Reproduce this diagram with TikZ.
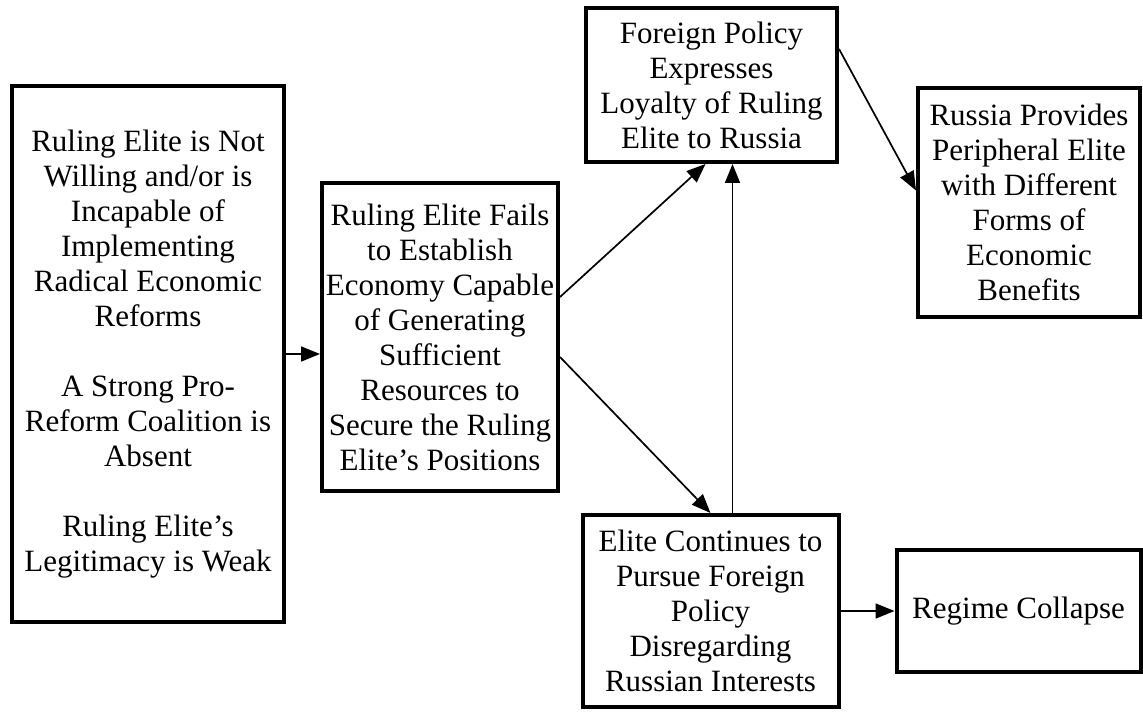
\documentclass[tikz,border=0pt]{standalone}
\usepackage{fontspec}
\setmainfont{Liberation Serif}
\usetikzlibrary{arrows.meta}

\tikzset{
  cbox/.style={draw, line width=2pt, align=center, inner sep=0pt,
    font=\fontsize{15.5pt}{17.5pt}\selectfont},
  link/.style={-{Triangle[length=9.5pt,width=7.5pt]}, line width=0.85pt}
}

\begin{document}
\begin{tikzpicture}[x=0.5pt, y=-0.5pt, line join=miter]
		% Page frame
		\useasboundingbox (0,0) rectangle (1143,711);
		
		% Boxes
		\node[cbox, minimum width=136pt, minimum height=268pt] (cause) at (148,354)
		{Ruling Elite is Not\\ Willing and/or is\\ Incapable of\\ Implementing\\ Radical Economic\\ Reforms\\[17.5pt]
		 A Strong Pro-\\ Reform Coalition is\\ Absent\\[17.5pt]
		 Ruling Elite's\\ Legitimacy is Weak};
		\node[cbox, minimum width=118pt, minimum height=154pt] (fail) at (440,337)
		{Ruling Elite Fails\\ to Establish\\ Economy Capable\\ of Generating\\ Sufficient\\ Resources to\\ Secure the Ruling\\ Elite's Positions};
		\node[cbox, minimum width=125.5pt, minimum height=77pt] (loyal) at (711.5,85)
		{Foreign Policy\\ Expresses\\ Loyalty of Ruling\\ Elite to Russia};
		\node[cbox, minimum width=111pt, minimum height=114.5pt] (benefit) at (1029,202.5)
		{Russia Provides\\ Peripheral Elite\\ with Different\\ Forms of\\ Economic\\ Benefits};
		\node[cbox, minimum width=128pt, minimum height=96pt] (pursue) at (710.5,611)
		{Elite Continues to\\ Pursue Foreign\\ Policy\\ Disregarding\\ Russian Interests};
		\node[cbox, minimum width=122pt, minimum height=61pt] (collapse) at (1018.5,611)
		{Regime Collapse};
		
		% Arrows
		\draw[link] (cause.east) -- (cause.east -| fail.west);
		\draw[link] ([yshift=20pt]fail.east) -- ([xshift=-3pt]loyal.south);
		\draw[link] ([yshift=-10pt]fail.east) -- (pursue.north);
		\draw[link] ([xshift=11pt]pursue.north) -- ([xshift=11pt]pursue.north |- loyal.south);
		\draw[link] ([yshift=18pt]loyal.east) -- ([yshift=6pt]benefit.west);
		\draw[link] (pursue.east) -- (collapse.west);
	\end{tikzpicture}
\end{document}
